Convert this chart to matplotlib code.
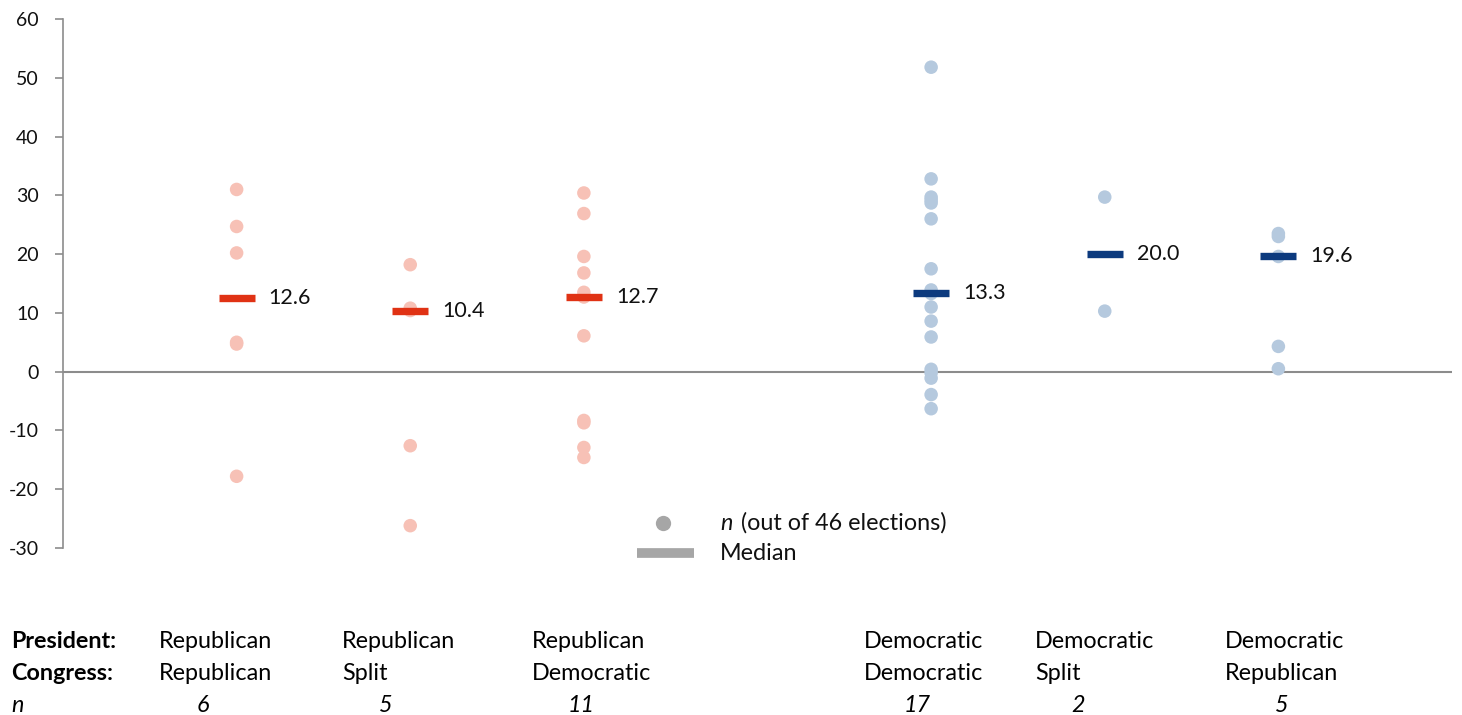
import matplotlib
matplotlib.use("Agg")
import matplotlib.pyplot as plt
from matplotlib.lines import Line2D

plt.rcParams['font.family'] = ['Lato', 'DejaVu Sans']

# ---- data ----
president = ["Republican", "Republican", "Republican", "Democratic", "Democratic", "Democratic"]
congress = ["Republican", "Split", "Democratic", "Democratic", "Split", "Republican"]
party = ["R", "R", "R", "D", "D", "D"]
positions = [1, 2, 3, 5, 6, 7]
values_rr = [31.0, 24.7, 20.2, 5.0, 4.7, -17.8]
values_rs = [18.2, 10.8, 10.4, -12.6, -26.2]
values_rd = [30.4, 26.9, 19.6, 16.8, 13.5, 12.7, 6.1, -8.3, -8.7, -12.9, -14.6]
values_dd = [51.8, 32.8, 29.7, 29.2, 28.7, 26.0, 17.5, 13.9, 13.3, 11.0, 8.6,
             5.9, 0.4, -0.2, -1.1, -3.9, -6.3]
values_ds = [29.7, 10.3]
values_dr = [23.5, 23.0, 19.6, 4.3, 0.5]
groups = [values_rr, values_rs, values_rd, values_dd, values_ds, values_dr]
medians = [12.6, 10.4, 12.7, 13.3, 20.0, 19.6]
counts = [len(g) for g in groups]
yticks = [-30, -20, -10, 0, 10, 20, 30, 40, 50, 60]

dot_colors = {"R": "#F7C1B6", "D": "#B5C9DE"}
med_colors = {"R": "#E03214", "D": "#0C3A7E"}

W, H = 1462, 715
fig = plt.figure(figsize=(W / 100, H / 100), dpi=100)
ax = fig.add_axes([63 / W, 1 - 548 / H, (1452 - 63) / W, (548 - 19) / H])

for pos, vals, med, p in zip(positions, groups, medians, party):
    ax.scatter([pos] * len(vals), vals, s=95, color=dot_colors[p], edgecolors='none', zorder=3)
    ax.plot([pos], [med], marker='_', markersize=25.5, markeredgewidth=5.3,
            color=med_colors[p], zorder=4)
    ax.text(pos + 0.185, med, f"{med:.1f}", va='center', ha='left', fontsize=15.5, color='#111111', zorder=5)

ax.axhline(0, color='#8C8C8C', lw=1.5, zorder=1)
ax.set_xlim(0, 8)
ax.set_ylim(-30, 60)
ax.set_yticks(yticks)
ax.set_yticklabels([str(t) for t in yticks])
ax.set_xticks([])
for s in ['top', 'right', 'bottom']:
    ax.spines[s].set_visible(False)
ax.spines['left'].set_color('#8C8C8C')
ax.spines['left'].set_linewidth(1.2)
ax.tick_params(axis='y', colors='#8C8C8C', length=5.5, width=1.2, labelsize=14, labelcolor='#111111', pad=12)

# ---- legend ----
fig.add_artist(Line2D([663 / W], [1 - 523 / H], marker='o', markersize=11, color='#A6A6A6',
                      markeredgewidth=0, linestyle='none', transform=fig.transFigure))
fig.add_artist(Line2D([637 / W, 694 / W], [1 - 553 / H, 1 - 553 / H], lw=7, color='#A6A6A6',
                      solid_capstyle='butt', transform=fig.transFigure))
fig.text(720 / W, 1 - 523 / H, "n", fontsize=16.8, va='center', ha='left', color='#111111',
         style='italic')
fig.text(741 / W, 1 - 523 / H, "(out of 46 elections)", fontsize=16.8, va='center', ha='left', color='#111111')
fig.text(720 / W, 1 - 553 / H, "Median", fontsize=16.8, va='center', ha='left', color='#111111')

# ---- bottom table ----
row_y = [642, 674, 706]
fs = 16.8
fig.text(11 / W, 1 - row_y[0] / H, "President:", fontsize=fs, fontweight='bold', va='center', ha='left')
fig.text(11 / W, 1 - row_y[1] / H, "Congress:", fontsize=fs, fontweight='bold', va='center', ha='left')
fig.text(11 / W, 1 - row_y[2] / H, "n", fontsize=fs, style='italic', va='center', ha='left')
col_left = [159, 342, 532, 864, 1035, 1225]
n_center = [203, 386, 581, 917, 1078, 1282]
for xl, xn, pres, cong, n in zip(col_left, n_center, president, congress, counts):
    fig.text(xl / W, 1 - row_y[0] / H, pres, fontsize=fs, va='center', ha='left')
    fig.text(xl / W, 1 - row_y[1] / H, cong, fontsize=fs, va='center', ha='left')
    fig.text(xn / W, 1 - row_y[2] / H, str(n), fontsize=fs, style='italic', va='center', ha='center')

fig.savefig("out.png", dpi=100)
